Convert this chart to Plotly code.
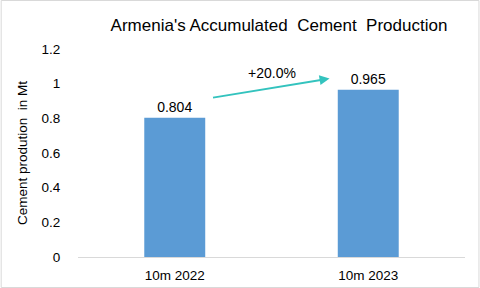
import plotly.graph_objects as go

categories = ["10m 2022", "10m 2023"]
values = [0.804, 0.965]
value_labels = ["0.804", "0.965"]
y_ticks = [0, 0.2, 0.4, 0.6, 0.8, 1, 1.2]
y_tick_labels = ["0", "0.2", "0.4", "0.6", "0.8", "1", "1.2"]

growth = values[1] / values[0] - 1
growth_label = f"+{growth*100:.1f}%"

FONT = "Liberation Sans"
W, H = 480, 288
L, R, T, B = 77.5, 14.5, 49, 31
pw, ph = W - L - R, H - T - B

fig = go.Figure()
fig.add_trace(go.Bar(
    x=categories, y=values, marker=dict(color="#5B9BD5", line=dict(width=0)),
    width=0.315, text=value_labels, textposition="outside",
    textfont=dict(family=FONT, size=14, color="#000000"), cliponaxis=False,
))

# growth arrow between bars
fig.add_annotation(
    x=0.80, y=1.03, ax=0.19, ay=0.918, xref="x", yref="y", axref="x", ayref="y",
    text="", showarrow=True, arrowhead=2, arrowsize=1, arrowwidth=2,
    arrowcolor="#33C3BE",
)
fig.add_annotation(
    x=0.5, y=1.06, xref="x", yref="y", text=growth_label, showarrow=False,
    font=dict(family=FONT, size=14, color="#000000"),
)

# outer border
fig.add_shape(type="rect", xref="paper", yref="paper",
              x0=-(L - 0.5) / pw, x1=1 + (R - 0.5) / pw,
              y0=-(B - 0.5) / ph, y1=1 + (T - 0.5) / ph,
              line=dict(color="#D9D9D9", width=1))

fig.update_layout(
    width=W, height=H, margin=dict(l=L, r=R, t=T, b=B, autoexpand=False),
    paper_bgcolor="white", plot_bgcolor="white", showlegend=False,
    title=dict(text="Armenia's Accumulated  Cement  Production", x=279 / W, xanchor="center",
               y=1 - 25 / H, yanchor="middle",
               font=dict(family=FONT, size=17, color="#000000")),
    bargap=0.685,
    font=dict(family=FONT, size=13.5, color="#000000"),
)
fig.update_xaxes(showline=True, linecolor="#D9D9D9", linewidth=1, showgrid=False,
                 automargin=False,
                 ticks="outside", ticklen=6, tickcolor="rgba(0,0,0,0)",
                 tickfont=dict(family=FONT, size=13.5))
fig.update_yaxes(range=[0, 1.2], tickvals=y_ticks, ticktext=y_tick_labels,
                 showgrid=False, zeroline=False, showline=False, automargin=False,
                 ticks="outside", ticklen=14, tickcolor="rgba(0,0,0,0)",
                 tickfont=dict(family=FONT, size=13.5),
                 title=dict(text="Cement prodution  in Mt", standoff=10,
                            font=dict(family=FONT, size=13.5)))

fig.write_html("out.html")
